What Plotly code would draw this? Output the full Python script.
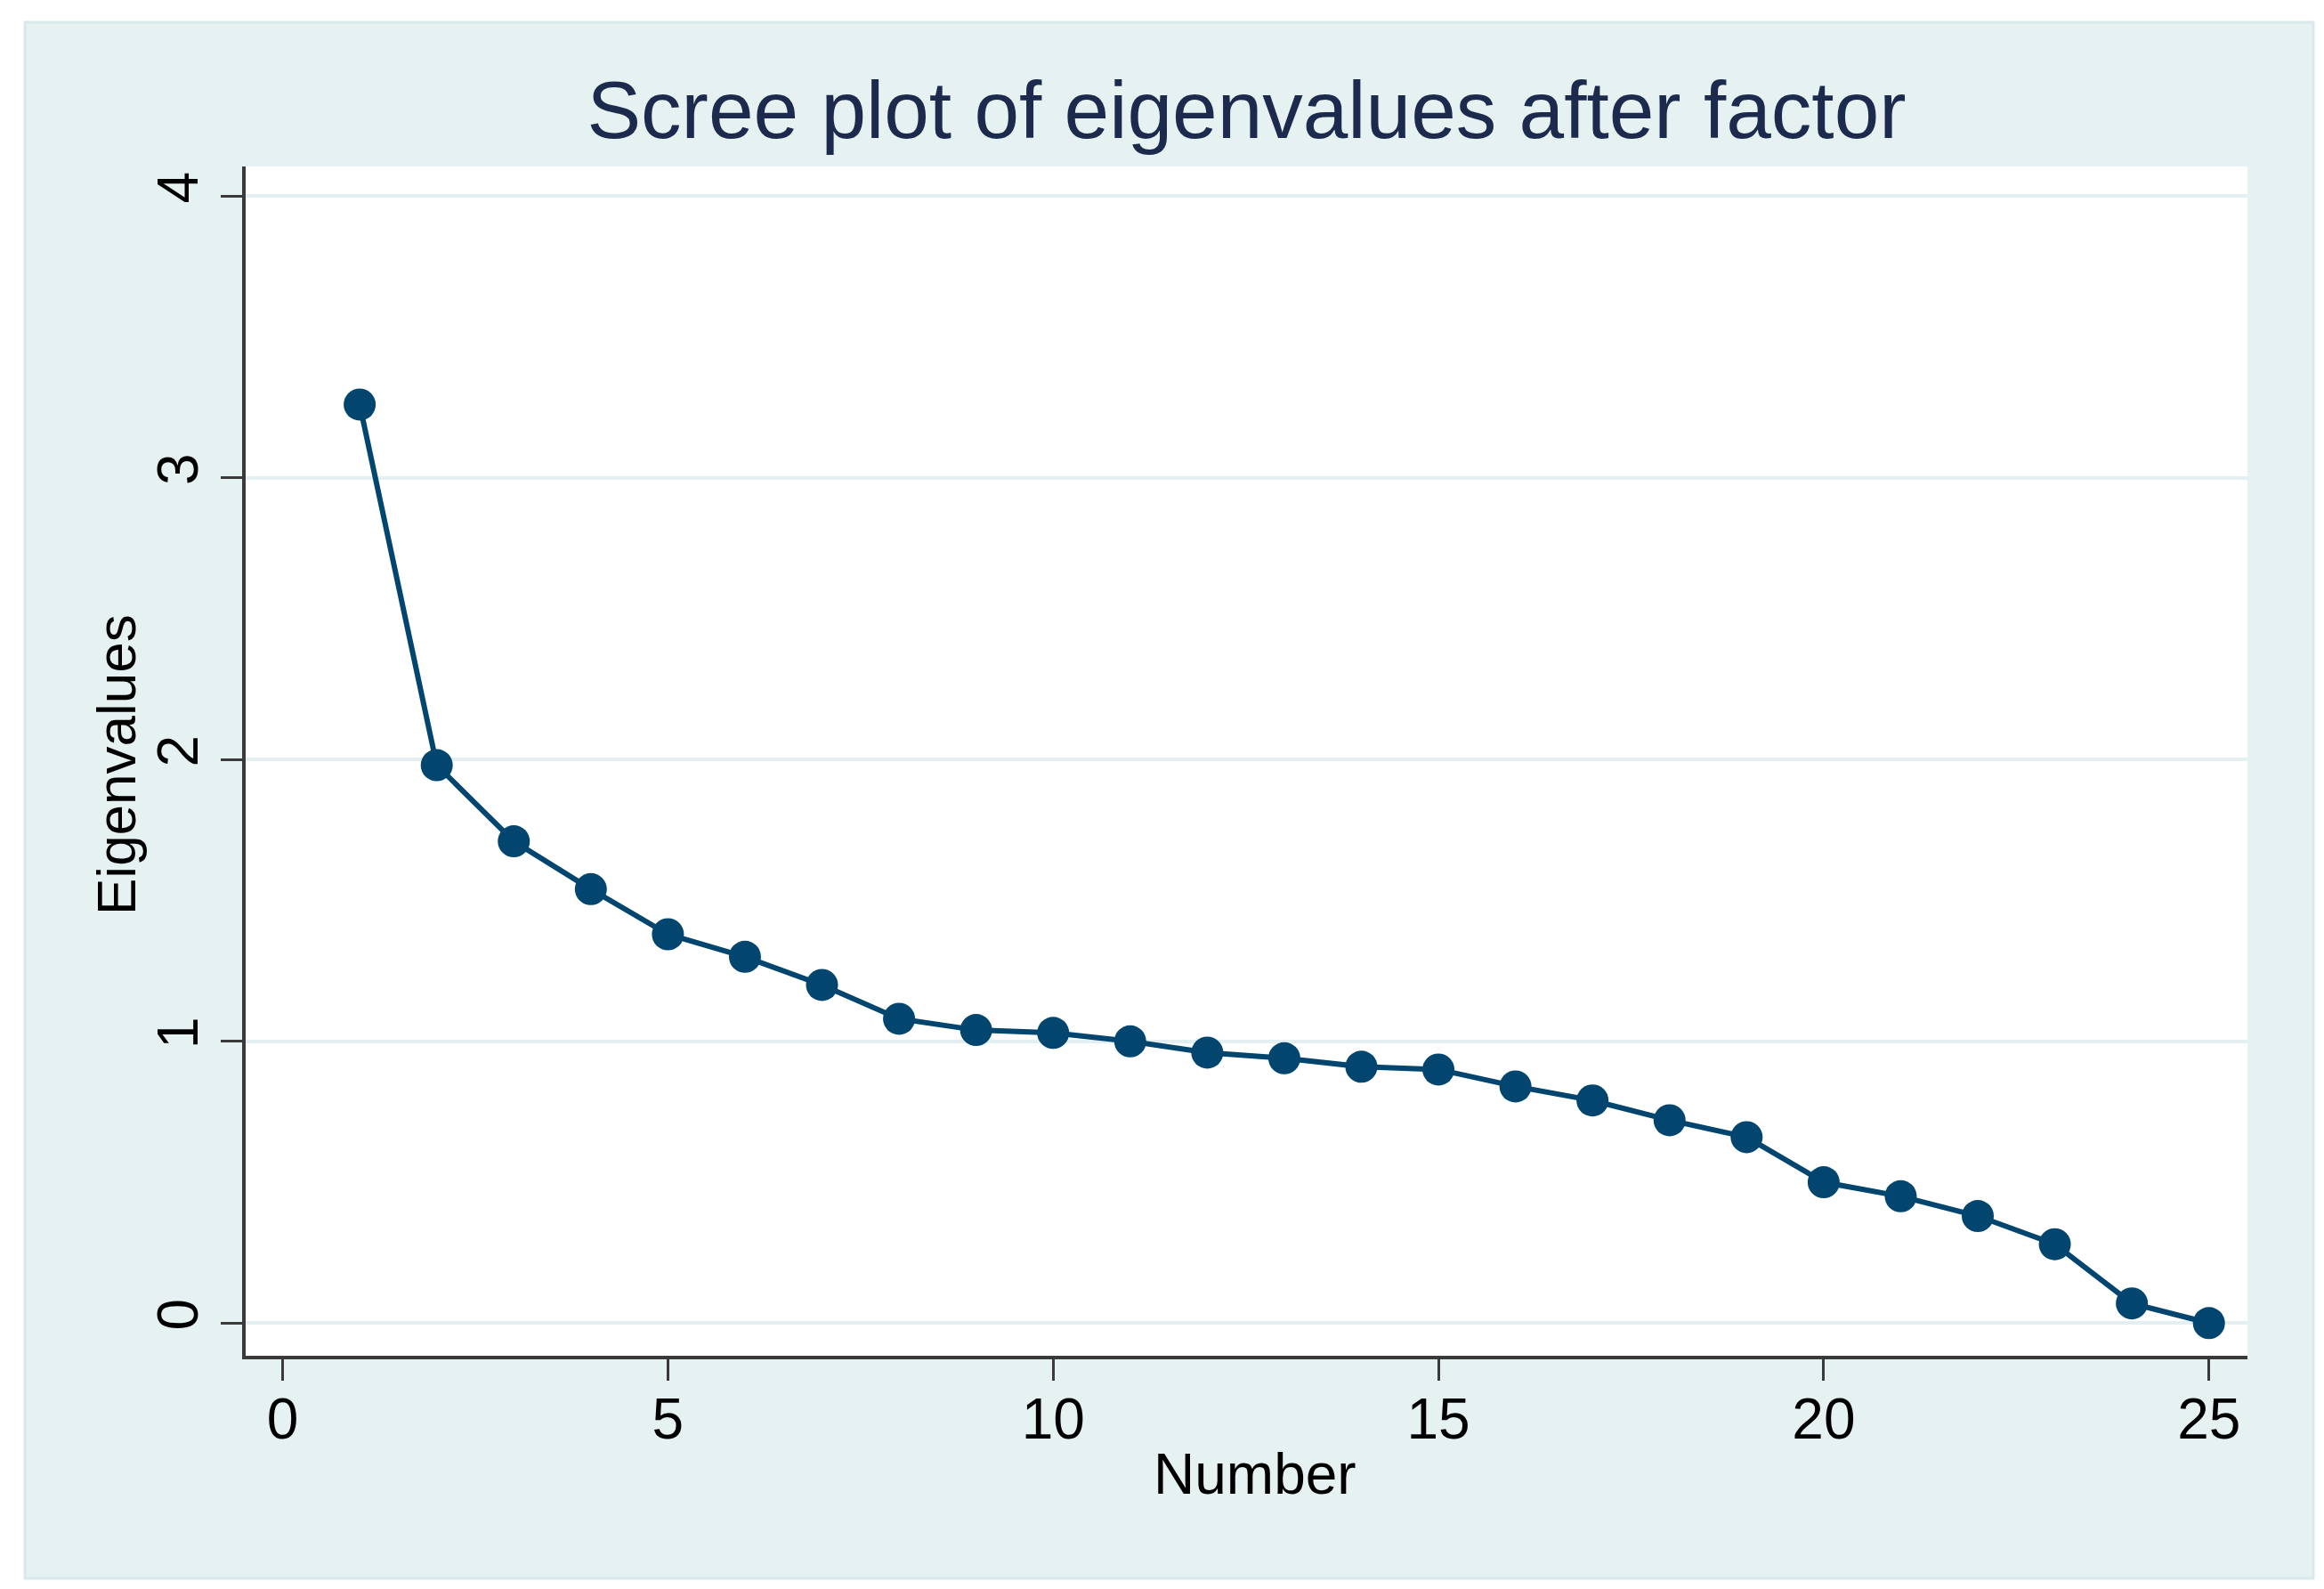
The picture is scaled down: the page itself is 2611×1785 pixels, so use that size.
import plotly.graph_objects as go

number = list(range(1, 26))
eigenvalues = [3.26, 1.98, 1.71, 1.54, 1.38, 1.30, 1.20, 1.08, 1.04, 1.03,
               1.00, 0.96, 0.94, 0.91, 0.90, 0.84, 0.79, 0.72, 0.66, 0.50,
               0.45, 0.38, 0.28, 0.07, 0.00]
x_ticks = [0, 5, 10, 15, 20, 25]
y_ticks = [0, 1, 2, 3, 4]

W, H = 2611, 1785
L, R, T, B = 268, 94, 179, 270
pw, ph = W - L - R, H - T - B

BG = "#e6f1f2"
NAVY = "#02466f"

fig = go.Figure()
fig.add_trace(go.Scatter(
    x=number, y=eigenvalues, mode="lines+markers",
    line=dict(color=NAVY, width=6),
    marker=dict(color=NAVY, size=36),
    showlegend=False,
))

fig.add_shape(type="rect", xref="paper", yref="paper",
              x0=(20 - L) / pw, x1=(2591 - L) / pw,
              y0=(H - B - 1765) / ph, y1=(H - B - 17) / ph,
              fillcolor=BG, line=dict(color="#d8e8ec", width=3), layer="below")
fig.add_shape(type="rect", xref="x domain", yref="y domain",
              x0=0, x1=1, y0=0, y1=1,
              fillcolor="white", line=dict(width=0), layer="below")

fig.add_annotation(text="Number", xref="paper", yref="paper",
                   x=(1402 - L) / pw, y=(H - B - 1648) / ph,
                   xanchor="center", yanchor="middle", showarrow=False,
                   font=dict(size=64, color="black"))
fig.add_annotation(text="Eigenvalues", xref="paper", yref="paper",
                   x=(122 - L) / pw, y=(H - B - 851) / ph, textangle=-90,
                   xanchor="center", yanchor="middle", showarrow=False,
                   font=dict(size=62, color="black"))

fig.update_layout(
    width=W, height=H,
    margin=dict(l=L, r=R, t=T, b=B),
    paper_bgcolor="white", plot_bgcolor="white",
    font=dict(family="Liberation Sans, Arial, sans-serif", color="black"),
    title=dict(text="Scree plot of eigenvalues after factor", x=0.5, xref="paper",
               y=1 - 115 / H, yanchor="middle",
               font=dict(size=91, color="#1c2a4e")),
    xaxis=dict(range=[-0.48, 25.5], tickvals=x_ticks, showgrid=False, zeroline=False,
               showline=True, linecolor="#3a3a3a", linewidth=4,
               ticks="outside", ticklen=24, tickwidth=3, tickcolor="#3a3a3a",
               ticklabelstandoff=-12,
               tickfont=dict(size=64)),
    yaxis=dict(range=[-0.116, 4.105], tickvals=y_ticks, showgrid=True, gridcolor="#e3eff1",
               gridwidth=4, zeroline=False,
               showline=True, linecolor="#3a3a3a", linewidth=4,
               ticks="outside", ticklen=24, tickwidth=3, tickcolor="#3a3a3a",
               tickangle=-90,
               tickfont=dict(size=64)),
)

fig.write_html("out.html")
